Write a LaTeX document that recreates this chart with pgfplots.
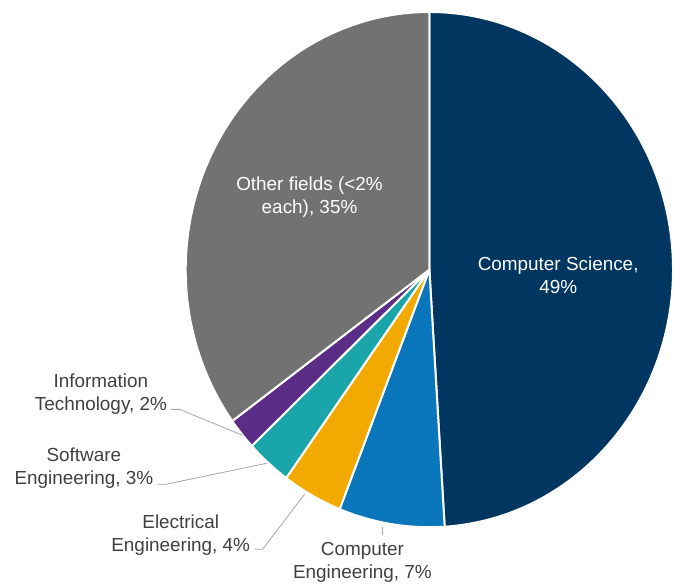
\documentclass[border=0pt]{standalone}
\usepackage{pgfplots}
\pgfplotsset{compat=1.18}
\usepackage{fontspec}
\setmainfont{Liberation Sans}

\definecolor{csblue}{RGB}{0,54,96}
\definecolor{ceblue}{RGB}{10,118,188}
\definecolor{eeorange}{RGB}{242,169,0}
\definecolor{seteal}{RGB}{26,165,170}
\definecolor{itpurple}{RGB}{92,45,134}
\definecolor{othergray}{RGB}{114,114,114}
\definecolor{labelgray}{RGB}{64,64,64}
\definecolor{leadergray}{RGB}{166,166,166}

\tikzset{
  lbl/.style={font=\fontsize{19}{23}\selectfont, align=center, inner sep=0pt},
  slice/.style={draw=white, line width=2bp, line join=round},
  leader/.style={leadergray, line width=0.8bp},
}

\begin{document}
\begin{tikzpicture}
% shares in percent, clockwise from the top
\def\vCS{49}\def\vCE{7}\def\vEE{4}\def\vSE{3}\def\vIT{2}\def\vOF{35}
\pgfmathsetmacro\aA{90}
\pgfmathsetmacro\aB{\aA-3.6*\vCS}
\pgfmathsetmacro\aC{\aB-3.6*\vCE}
\pgfmathsetmacro\aD{\aC-3.6*\vEE}
\pgfmathsetmacro\aE{\aD-3.6*\vSE}
\pgfmathsetmacro\aF{\aE-3.6*\vIT}
\pgfmathsetmacro\aG{\aF-3.6*\vOF}
\begin{axis}[
  width=674bp, height=584bp, scale only axis,
  xmin=0, xmax=674, ymin=0, ymax=584, y dir=reverse,
  hide axis, clip=false,
]
\path (axis cs:0,0) rectangle (axis cs:674,584);
\fill[csblue, slice] (axis cs:430,270) -- ++(\aA:244bp and 258bp) arc[start angle=\aA, end angle=\aB, x radius=244bp, y radius=258bp] -- cycle;
\fill[ceblue, slice] (axis cs:430,270) -- ++(\aB:244bp and 258bp) arc[start angle=\aB, end angle=\aC, x radius=244bp, y radius=258bp] -- cycle;
\fill[eeorange, slice] (axis cs:430,270) -- ++(\aC:244bp and 258bp) arc[start angle=\aC, end angle=\aD, x radius=244bp, y radius=258bp] -- cycle;
\fill[seteal, slice] (axis cs:430,270) -- ++(\aD:244bp and 258bp) arc[start angle=\aD, end angle=\aE, x radius=244bp, y radius=258bp] -- cycle;
\fill[itpurple, slice] (axis cs:430,270) -- ++(\aE:244bp and 258bp) arc[start angle=\aE, end angle=\aF, x radius=244bp, y radius=258bp] -- cycle;
\fill[othergray, slice] (axis cs:430,270) -- ++(\aF:244bp and 258bp) arc[start angle=\aF, end angle=\aG, x radius=244bp, y radius=258bp] -- cycle;

% leader lines
\draw[leader] (axis cs:383,528) -- (axis cs:383,536);
\draw[leader] (axis cs:255,550) -- (axis cs:263,550) -- (axis cs:305,495);
\draw[leader] (axis cs:158,485) -- (axis cs:166,485) -- (axis cs:267,464);
\draw[leader] (axis cs:171,410) -- (axis cs:180,410) -- (axis cs:243,436);

% labels
\node[lbl, white] at (axis cs:559,276) {Computer Science,\\49\%};
\node[lbl, white] at (axis cs:310,197) {Other fields (<2\%\\each), 35\%};
\node[lbl, labelgray] at (axis cs:101,395) {Information\\Technology, 2\%};
\node[lbl, labelgray] at (axis cs:84,469) {Software\\Engineering, 3\%};
\node[lbl, labelgray] at (axis cs:181,536) {Electrical\\Engineering, 4\%};
\node[lbl, labelgray] at (axis cs:363,563) {Computer\\Engineering, 7\%};
\end{axis}
\end{tikzpicture}
\end{document}
